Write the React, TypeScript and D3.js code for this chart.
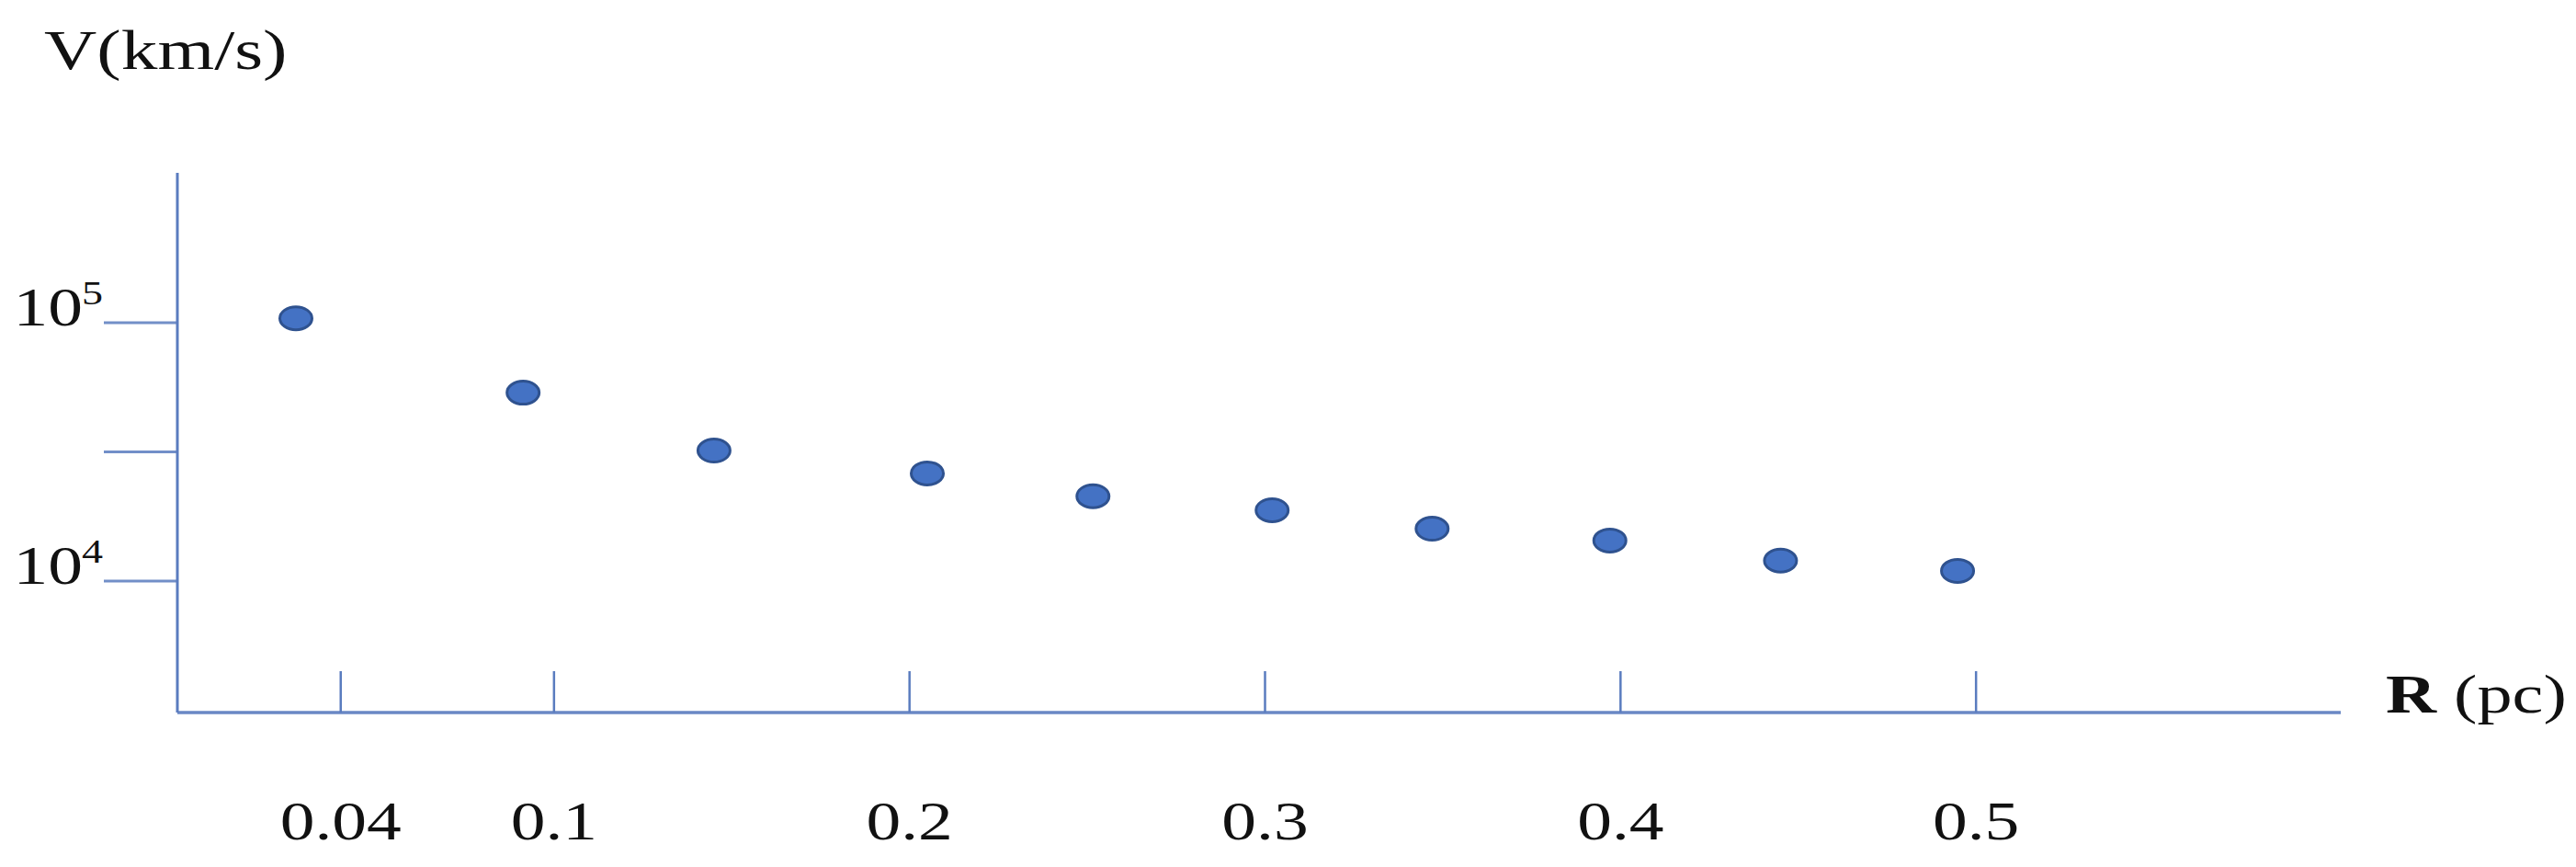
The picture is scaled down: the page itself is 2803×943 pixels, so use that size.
import React from "react";
import * as d3 from "d3";

// ---- data ----
const radiusPc = [0.0274, 0.0913, 0.145, 0.205, 0.2516, 0.302, 0.347, 0.397, 0.445, 0.4948];
const velocityKms = [104000, 53600, 32000, 26100, 21300, 18800, 15950, 14350, 12000, 10950];

const xTickValues = [0.04, 0.1, 0.2, 0.3, 0.4, 0.5];
const xTickLabels = ["0.04", "0.1", "0.2", "0.3", "0.4", "0.5"];

const yTickValues = [10000, 31623, 100000];
const yTickBase = ["10", "", "10"];
const yTickExponent = ["4", "", "5"];

const yTitle = "V(km/s)";
const xTitleBold = "R";
const xTitleRest = " (pc)";

// ---- layout ----
const W = 2803;
const H = 943;
const axisX = 193;
const axisTop = 188;
const axisBottom = 775;
const axisRight = 2547;
const SX = 1.28; // horizontal stretch of the reference's text
const FONT = "'Liberation Serif', 'Times New Roman', serif";
const AXIS_COLOR = "#5a7cbf";

const xScale = d3.scaleLinear().domain([0, 0.6]).range([216, 2537]);
const yScale = d3.scaleLog().domain([1e4, 1e5]).range([632, 351]);

function SText(props: {
  x: number;
  y: number;
  size: number;
  anchor?: string;
  sx?: number;
  children: React.ReactNode;
}) {
  const { x, y, size, anchor = "start", sx = SX, children } = props;
  return (
    <text
      transform={`translate(${x},${y}) scale(${sx},1)`}
      fontSize={size}
      fontFamily={FONT}
      textAnchor={anchor}
      fill="#111"
    >
      {children}
    </text>
  );
}

export default function App() {
  const points = radiusPc.map((r, i) => ({ r, v: velocityKms[i] }));
  return (
    <svg
      width={W}
      height={H}
      viewBox={`0 0 ${W} ${H}`}
      style={{ position: "absolute", left: 0, top: 0, display: "block", background: "#fff" }}
    >
      <rect x={0} y={0} width={W} height={H} fill="#fff" />

      {/* y axis title */}
      <SText x={48} y={75} size={62}>
        {yTitle}
      </SText>

      {/* axes */}
      <line x1={axisX} y1={axisTop} x2={axisX} y2={axisBottom} stroke={AXIS_COLOR} strokeWidth={3} />
      <line x1={axisX} y1={axisBottom} x2={axisRight} y2={axisBottom} stroke={AXIS_COLOR} strokeWidth={3.5} opacity={0.9} />

      {/* y ticks */}
      {yTickValues.map((v, i) => {
        const y = yScale(v);
        return (
          <g key={"yt" + i}>
            <line x1={113} y1={y} x2={axisX} y2={y} stroke={AXIS_COLOR} strokeWidth={3} opacity={0.85} />
            {yTickBase[i] && (
              <SText x={90} y={y + 3} size={59} anchor="end">
                {yTickBase[i]}
              </SText>
            )}
            {yTickExponent[i] && (
              <SText x={89} y={y - 20} size={36}>
                {yTickExponent[i]}
              </SText>
            )}
          </g>
        );
      })}

      {/* x ticks */}
      {xTickValues.map((v, i) => {
        const x = xScale(v);
        return (
          <g key={"xt" + i}>
            <line x1={x} y1={axisBottom} x2={x} y2={axisBottom - 45} stroke={AXIS_COLOR} strokeWidth={2.5} />
            <SText x={x} y={913} size={59} anchor="middle">
              {xTickLabels[i]}
            </SText>
          </g>
        );
      })}

      {/* x axis title */}
      <text
        transform={`translate(2596,775) scale(1.27,1)`}
        fontSize={60}
        fontFamily={FONT}
        fill="#111"
      >
        <tspan fontWeight="bold">{xTitleBold}</tspan>
        <tspan>{xTitleRest}</tspan>
      </text>

      {/* points */}
      {points.map((p, i) => (
        <ellipse
          key={"pt" + i}
          cx={xScale(p.r)}
          cy={yScale(p.v)}
          rx={17.5}
          ry={12.5}
          fill="#4472c4"
          stroke="#2f528f"
          strokeWidth={3}
        />
      ))}
    </svg>
  );
}
